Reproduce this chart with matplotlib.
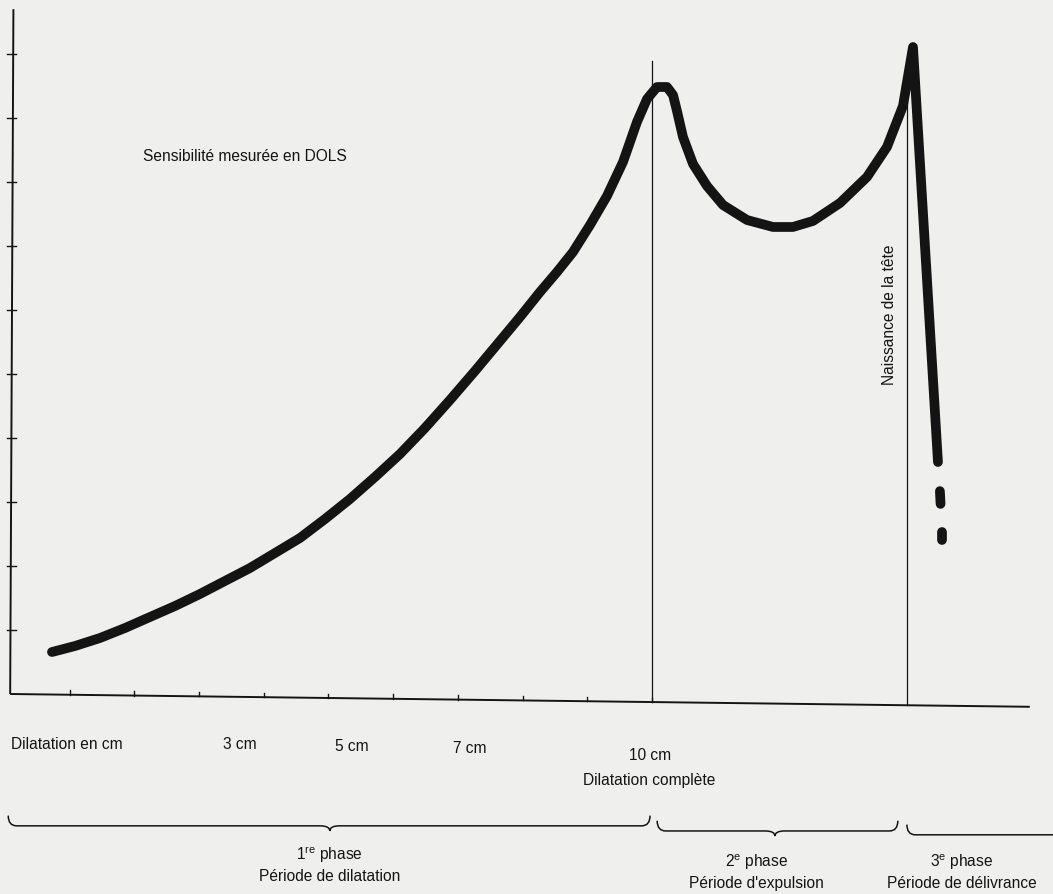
import numpy as np
import matplotlib
matplotlib.use("Agg")
import matplotlib.pyplot as plt
from matplotlib.path import Path
from matplotlib.patches import PathPatch

plt.rcParams['font.family'] = ['Liberation Sans', 'DejaVu Sans']
plt.rcParams['mathtext.default'] = 'regular'

# ---------------- data ----------------
# sensitivity curve (x in cm of dilatation / time axis, y in DOLS)
dilatation_cm = [0.726, 1.082, 1.468, 1.855, 2.241, 2.628, 3.014, 3.400, 3.787,
                 4.173, 4.560, 4.946, 5.332, 5.719, 6.105, 6.491, 6.878, 7.264,
                 7.651, 7.960, 8.269, 8.532, 8.779, 9.042, 9.304, 9.552, 9.768,
                 9.923, 10.077, 10.232, 10.325, 10.386, 10.479, 10.634, 10.850,
                 11.097, 11.468, 11.870, 12.179, 12.488, 12.906, 13.323, 13.632,
                 13.879, 14.034, 14.420]
sensibilite = [0.656, 0.750, 0.875, 1.031, 1.203, 1.375, 1.563, 1.766, 1.969,
               2.203, 2.438, 2.734, 3.047, 3.391, 3.750, 4.156, 4.594, 5.047,
               5.516, 5.891, 6.281, 6.594, 6.906, 7.328, 7.781, 8.313, 8.938,
               9.297, 9.484, 9.484, 9.359, 9.109, 8.703, 8.281, 7.938,
               7.641, 7.406, 7.297, 7.297, 7.391, 7.672, 8.078, 8.547,
               9.188, 10.109, 3.625]
# dashed continuation after the birth of the head
dash_x = [[14.45, 14.46], [14.48, 14.48]]
dash_y = [[3.17, 2.97], [2.53, 2.41]]

x_ticks = [1, 2, 3, 4, 5, 6, 7, 8, 9, 10]
y_ticks = [1, 2, 3, 4, 5, 6, 7, 8, 9, 10]

cm_labels = ["3 cm", "5 cm", "7 cm", "10 cm"]
cm_label_x = [3.63, 5.36, 7.19, 9.97]
cm_label_y = [-0.78, -0.81, -0.84, -0.94]

x_full = 10.0        # dilatation complète
x_birth = 13.94      # naissance de la tête

phase_titles = ["1$^{re}$ phase", "2$^{e}$ phase", "3$^{e}$ phase"]
phase_names = ["Période de dilatation", "Période d'expulsion", "Période de délivrance"]
phase_center = [5.02, 11.62, 14.79]
phase_start = [0.05, 10.08, 13.94]
phase_end = [9.97, 13.80, 16.40]
phase_tip = [5.02, 11.90, None]
phase_brace_y = [-2.06, -2.14, -2.20]
phase_title_y = [-2.50, -2.61, -2.61]
phase_name_y = [-2.84, -2.94, -2.94]

# ---------------- figure ----------------
W, H = 1053, 895
fig = plt.figure(figsize=(W / 100, H / 100), dpi=100)
bg = '#efefed'
fig.patch.set_facecolor(bg)
ax = fig.add_axes([0, 0, 1, 1])
ax.set_facecolor(bg)
ax.set_xlim(-0.0773, 16.198)
ax.set_ylim(-3.125, 10.859)
ax.axis('off')

ink = '#141414'
tilt = -0.2 / 15.76


def base(x):
    return tilt * (x - 0.08)


# axes lines
ax.plot([0.08, 15.84], [0, base(15.84)], color=ink, lw=1.4, solid_capstyle='butt')
ax.plot([0.08, 0.13], [0, 10.70], color=ink, lw=1.4, solid_capstyle='butt')
for t in y_ticks:
    ax.plot([0.03, 0.17], [t, t], color=ink, lw=1.0)
for t in x_ticks:
    ax.plot([t, t], [base(t), base(t) + 0.07], color=ink, lw=1.0)

# vertical reference lines
ax.plot([x_full, x_full], [base(x_full), 9.89], color=ink, lw=0.9)
ax.plot([x_birth, x_birth], [base(x_birth), 9.6], color=ink, lw=0.9)

# curve
ax.plot(dilatation_cm, sensibilite, color=ink, lw=7,
        solid_capstyle='round', solid_joinstyle='round')
for dx, dy in zip(dash_x, dash_y):
    ax.plot(dx, dy, color=ink, lw=7, solid_capstyle='round')

fs = 11.2
ax.text(2.13, 8.41, "Sensibilité mesurée en DOLS", fontsize=fs, color=ink,
        ha='left', va='center')
ax.text(x_birth - 0.27, 5.94, "Naissance de la tête", fontsize=fs, color=ink,
        rotation=90, ha='center', va='center')

ax.text(0.10, -0.78, "Dilatation en cm", fontsize=fs, color=ink, ha='left', va='center')
for lab, lx, ly in zip(cm_labels, cm_label_x, cm_label_y):
    ax.text(lx, ly, lab, fontsize=fs, color=ink, ha='center', va='center')
ax.text(9.95, -1.33, "Dilatation complète", fontsize=fs, color=ink, ha='center', va='center')


def brace(x0, x1, xc, y, rise=0.16, curl=0.13, tip=0.08, tipw=0.15, right=True):
    verts = [(x0, y + rise), (x0, y), (x0 + curl, y)]
    codes = [Path.MOVETO, Path.CURVE3, Path.CURVE3]
    if xc is not None:
        verts += [(xc - tipw, y), (xc, y), (xc, y - tip), (xc, y), (xc + tipw, y)]
        codes += [Path.LINETO, Path.CURVE3, Path.CURVE3, Path.CURVE3, Path.CURVE3]
    if right:
        verts += [(x1 - curl, y), (x1, y), (x1, y + rise)]
        codes += [Path.LINETO, Path.CURVE3, Path.CURVE3]
    else:
        verts += [(x1, y)]
        codes += [Path.LINETO]
    ax.add_patch(PathPatch(Path(verts, codes), fill=False, edgecolor=ink, lw=1.1))


for i in range(3):
    brace(phase_start[i], phase_end[i], phase_tip[i], phase_brace_y[i], right=(i < 2))
    ax.text(phase_center[i], phase_title_y[i], phase_titles[i], fontsize=fs,
            color=ink, ha='center', va='center')
    ax.text(phase_center[i], phase_name_y[i], phase_names[i], fontsize=fs,
            color=ink, ha='center', va='center')

fig.savefig("out.png", dpi=100, facecolor=bg)
